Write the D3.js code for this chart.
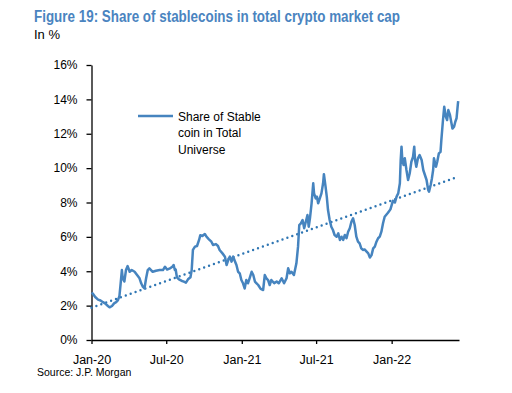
<!DOCTYPE html>
<html>
<head>
<meta charset="utf-8">
<script src="https://cdn.jsdelivr.net/npm/d3@7"></script>
<style>
  body { margin: 0; background: #fff; }
  svg { display: block; font-family: 'Liberation Sans', Arial, sans-serif; }
  .tick text { font-family: 'Liberation Sans', Arial, sans-serif; fill: #000; }
</style>
</head>
<body>
<svg id="chart"></svg>
<script>
// dates + share of stablecoins (%)
let dates = ['2020-01-01','2020-01-04','2020-01-10','2020-01-17','2020-01-23','2020-01-29','2020-02-03','2020-02-10','2020-02-14','2020-02-20',
  '2020-02-25','2020-03-01','2020-03-05','2020-03-09','2020-03-12','2020-03-15','2020-03-17','2020-03-21','2020-03-25','2020-03-29',
  '2020-04-03','2020-04-08','2020-04-15','2020-04-21','2020-04-27','2020-05-01','2020-05-05','2020-05-09','2020-05-13','2020-05-17',
  '2020-05-21','2020-05-25','2020-05-29','2020-06-06','2020-06-15','2020-06-23','2020-06-28','2020-07-03','2020-07-10','2020-07-16',
  '2020-07-19','2020-07-22','2020-07-24','2020-07-27','2020-08-01','2020-08-07','2020-08-13','2020-08-18','2020-08-23','2020-08-29',
  '2020-09-01','2020-09-04','2020-09-09','2020-09-14','2020-09-19','2020-09-22','2020-09-27','2020-10-03','2020-10-07','2020-10-13',
  '2020-10-19','2020-10-23','2020-10-30','2020-11-04','2020-11-08','2020-11-15','2020-11-21','2020-11-25','2020-11-29','2020-12-03',
  '2020-12-07','2020-12-11','2020-12-15','2020-12-19','2020-12-23','2020-12-27','2020-12-31','2021-01-04','2021-01-08','2021-01-12',
  '2021-01-16','2021-01-20','2021-01-25','2021-01-29','2021-02-02','2021-02-06','2021-02-10','2021-02-16','2021-02-22','2021-02-26',
  '2021-03-02','2021-03-06','2021-03-10','2021-03-14','2021-03-21','2021-03-27','2021-04-01','2021-04-08','2021-04-14','2021-04-20',
  '2021-04-24','2021-04-28','2021-05-02','2021-05-08','2021-05-14','2021-05-18','2021-05-21','2021-05-25','2021-05-29','2021-06-02',
  '2021-06-05','2021-06-10','2021-06-13','2021-06-16','2021-06-20','2021-06-24','2021-06-26','2021-06-30','2021-07-03','2021-07-06',
  '2021-07-10','2021-07-14','2021-07-18','2021-07-20','2021-07-24','2021-07-27','2021-07-30','2021-08-03','2021-08-07','2021-08-11',
  '2021-08-15','2021-08-20','2021-08-24','2021-08-28','2021-09-01','2021-09-05','2021-09-09','2021-09-13','2021-09-17','2021-09-21',
  '2021-09-25','2021-09-29','2021-10-03','2021-10-07','2021-10-11','2021-10-15','2021-10-19','2021-10-23','2021-10-27','2021-11-01',
  '2021-11-05','2021-11-09','2021-11-13','2021-11-17','2021-11-21','2021-11-25','2021-11-29','2021-12-03','2021-12-07','2021-12-11',
  '2021-12-15','2021-12-23','2021-12-29','2022-01-04','2022-01-09','2022-01-13','2022-01-17','2022-01-21','2022-01-23','2022-01-25',
  '2022-01-27','2022-01-30','2022-02-02','2022-02-06','2022-02-10','2022-02-14','2022-02-18','2022-02-22','2022-02-25','2022-02-27',
  '2022-03-02','2022-03-06','2022-03-10','2022-03-15','2022-03-19','2022-03-23','2022-03-27','2022-03-31','2022-04-02','2022-04-06',
  '2022-04-09','2022-04-12','2022-04-14','2022-04-19','2022-04-22','2022-04-26','2022-04-30','2022-05-02','2022-05-06','2022-05-09',
  '2022-05-13','2022-05-16','2022-05-19','2022-05-23','2022-05-26','2022-05-29','2022-06-02','2022-06-05','2022-06-08','2022-06-11',
  '2022-06-12']

let share = [2.75,2.7,2.5,2.35,2.3,2.2,2.13,1.98,1.9,1.98,
  2.13,2.2,2.3,2.55,3.3,4.07,3.6,3.4,4.07,4.3,
  3.97,4.07,3.97,3.78,3.59,3.3,3.1,3.0,3.59,4.07,
  4.17,4.07,3.97,4.03,4.07,4.07,4.26,4.1,4.17,4.26,
  4.36,4.07,4.1,3.65,3.53,3.45,3.4,3.34,3.53,3.65,
  4.07,5.24,5.43,5.47,5.82,6.1,6.05,6.17,6.01,5.86,
  5.72,5.53,5.58,5.47,5.24,5.04,4.85,4.36,4.65,4.85,
  4.56,4.85,4.6,4.36,3.97,3.88,3.49,3.3,3.0,3.49,
  3.3,3.59,3.97,3.78,3.4,3.3,3.2,2.97,2.91,3.78,
  3.59,3.49,3.2,3.49,3.3,3.4,3.3,3.59,3.3,3.59,
  4.17,3.88,3.97,3.78,4.46,5.43,6.69,6.79,6.98,6.5,
  6.79,7.27,6.59,7.08,7.95,9.12,8.53,8.24,8.34,7.95,
  8.24,8.53,9.12,9.65,8.92,8.34,7.56,6.98,6.59,6.4,
  6.11,6.01,6.21,5.82,6.01,5.82,6.11,5.92,6.3,6.5,
  6.88,7.08,6.69,6.01,5.72,5.62,5.33,5.24,5.27,5.14,
  5.04,4.8,4.94,5.33,5.43,5.72,5.92,6.01,6.3,6.79,
  7.17,7.4,7.6,8.1,8.0,8.34,8.53,9.12,10.47,11.25,
  10.47,10.18,10.57,9.89,9.31,9.7,10.37,10.66,11.25,10.47,
  10.08,10.57,10.76,10.47,9.89,9.6,9.31,8.73,8.63,9.02,
  9.4,9.89,10.57,10.08,10.37,10.86,10.95,11.63,12.8,13.57,
  12.99,12.8,13.38,13.09,12.7,12.3,12.41,12.7,12.9,13.67,
  13.9]

// linear trend (dotted) end points
let trendDates = ['2020-01-01', '2022-06-12']
let trendValues = [1.88, 9.5]

let yTicks = [0, 2, 4, 6, 8, 10, 12, 14, 16]
let xTickDates = ['2020-01-01', '2020-07-01', '2021-01-01', '2021-07-01', '2022-01-01']
let axisEnd = '2022-06-14'

let seriesName = ['Share of Stable', 'coin in Total', 'Universe']
let title = 'Figure 19: Share of stablecoins in total crypto market cap'
let subtitle = 'In %'
let source = 'Source: J.P. Morgan'

let width = 512
let height = 393
let plotLeft = 91.5
let plotRight = 459
let plotTop = 65
let plotBottom = 340

let parse = d3.timeParse('%Y-%m-%d')
let values = dates.map((d, i) => ({ date: parse(d), value: share[i] }))
let trend = trendDates.map((d, i) => ({ date: parse(d), value: trendValues[i] }))

let svg = d3.select('#chart')
    .attr('width', width)
    .attr('height', height)

let xScale = d3.scaleTime()
    .domain([parse(dates[0]), parse(axisEnd)])
    .range([plotLeft, plotRight])

let yScale = d3.scaleLinear()
    .domain([0, 16])
    .range([plotBottom, plotTop])

// titles
svg.append('text')
    .attr('x', 34)
    .attr('y', 21.5)
    .attr('font-size', 16)
    .attr('font-weight', 'bold')
    .attr('fill', '#4a84c0')
    .attr('textLength', 366)
    .attr('lengthAdjust', 'spacingAndGlyphs')
    .text(title)

svg.append('text')
    .attr('x', 34)
    .attr('y', 39)
    .attr('font-size', 13)
    .attr('fill', '#000')
    .text(subtitle)

// axes
let yAxis = d3.axisLeft(yScale)
    .tickValues(yTicks)
    .tickSize(5)
    .tickSizeOuter(0)
    .tickPadding(9)
    .tickFormat(d => d + '%')
svg.append('g')
    .attr('id', 'y-axis')
    .attr('transform', `translate(${plotLeft}, 0)`)
    .call(yAxis)
    .call(g => g.selectAll('text').attr('font-size', 12))

let xAxis = d3.axisBottom(xScale)
    .tickValues(xTickDates.map(parse))
    .tickSize(4)
    .tickSizeOuter(0)
    .tickPadding(11)
    .tickFormat(d3.timeFormat('%b-%y'))
svg.append('g')
    .attr('id', 'x-axis')
    .attr('transform', `translate(0, ${plotBottom})`)
    .call(xAxis)
    .call(g => g.selectAll('text').attr('font-size', 12.5))

svg.selectAll('.domain, .tick line').attr('stroke', '#000').attr('stroke-width', 1.3)

// trend line
let line = d3.line()
    .x(d => xScale(d.date))
    .y(d => yScale(d.value))

svg.append('path')
    .datum(trend)
    .attr('d', line)
    .attr('fill', 'none')
    .attr('stroke', '#2f76b3')
    .attr('stroke-width', 2.4)
    .attr('stroke-linecap', 'round')
    .attr('stroke-dasharray', '0,5.2')

// series
svg.append('path')
    .datum(values)
    .attr('d', line)
    .attr('fill', 'none')
    .attr('stroke', '#4684bf')
    .attr('stroke-width', 2.5)
    .attr('stroke-linejoin', 'round')

// legend
svg.append('line')
    .attr('x1', 138)
    .attr('x2', 173)
    .attr('y1', 116)
    .attr('y2', 116)
    .attr('stroke', '#4684bf')
    .attr('stroke-width', 2.3)

svg.selectAll('.legend-text')
    .data(seriesName)
    .enter()
    .append('text')
    .attr('class', 'legend-text')
    .attr('x', 178)
    .attr('y', (d, i) => 121 + i * 16.3)
    .attr('font-size', 12)
    .attr('fill', '#000')
    .text(d => d)

// source
svg.append('text')
    .attr('x', 37)
    .attr('y', 376)
    .attr('font-size', 10.5)
    .attr('fill', '#000')
    .text(source)
</script>
</body>
</html>
